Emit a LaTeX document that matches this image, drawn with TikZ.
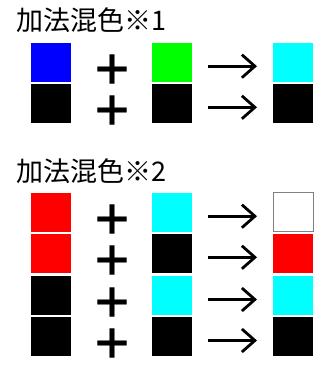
\documentclass[tikz,border=0pt]{standalone}
\usepackage{fontspec}
\usetikzlibrary{arrows.meta}
\newfontfamily\jpfont{Noto Sans CJK JP}
\definecolor{aqua}{RGB}{0,255,255}
\definecolor{lime}{RGB}{0,255,0}
\definecolor{pureblue}{RGB}{0,0,255}
\definecolor{purered}{RGB}{255,0,0}
\begin{document}
\begin{tikzpicture}[x=1pt,y=-1pt,
    swatch/.style={minimum width=40pt,minimum height=39pt,inner sep=0pt,outer sep=0pt},
    heading/.style={font=\jpfont\fontsize{27}{27}\selectfont,anchor=base west,inner sep=0pt},
    op/.style={font=\jpfont\bfseries\fontsize{42}{42}\selectfont,inner sep=0pt,anchor=base,text height=30pt,text depth=0pt},
    yields/.style={-{Straight Barb[length=13pt,width=23pt]},line width=2.8pt,shorten <=16pt,shorten >=16pt}]
  \useasboundingbox (0,0) rectangle (327,366);
  % 加法混色※1
  \node[heading] (h1) at (16,31) {加法混色※1};
  \foreach \y/\a/\b/\c [count=\i] in {62.2/pureblue/lime/aqua,103.3/black/black/black}{
    \node[swatch,fill=\a] (ua\i) at (51,\y) {};
    \node[swatch,fill=\b] (ub\i) at (172,\y) {};
    \node[swatch,fill=\c] (uc\i) at (293,\y) {};
    \node[op] (up\i) at (112,\y+23) {＋};
    \draw[yields] ([yshift=-4pt]ub\i.east) -- ([yshift=-4pt]uc\i.west);
  }
  % 加法混色※2
  \node[heading] (h2) at (16,181) {加法混色※2};
  \foreach \y/\a/\b/\c [count=\i] in {212.2/purered/aqua/white,253.3/purered/black/purered,295.5/black/aqua/aqua,336.5/black/black/black}{
    \node[swatch,fill=\a] (la\i) at (51,\y) {};
    \node[swatch,fill=\b] (lb\i) at (172,\y) {};
    \node[swatch,fill=\c] (lc\i) at (293,\y) {};
    \node[op] (lp\i) at (112,\y+23) {＋};
    \draw[yields] ([yshift=-4pt]lb\i.east) -- ([yshift=-4pt]lc\i.west);
  }
  \draw[gray,line width=1pt] (lc1.south west) rectangle (lc1.north east);
\end{tikzpicture}
\end{document}
